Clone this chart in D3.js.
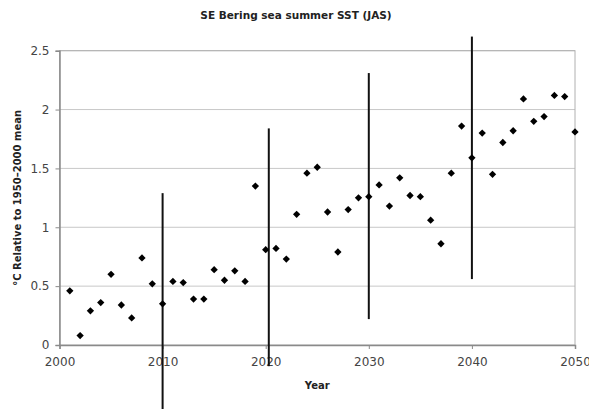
<!DOCTYPE html>
<html><head><meta charset="utf-8">
<script src="https://cdn.jsdelivr.net/npm/d3@7"></script>
<style>body{margin:0;background:#fff}svg{display:block}</style>
</head><body>
<svg id="c" width="589" height="409"></svg>
<script>
const years = d3.range(2001, 2051);
const sst = [0.46,0.08,0.29,0.36,0.60,0.34,0.23,0.74,0.52,0.35,
             0.54,0.53,0.39,0.39,0.64,0.55,0.63,0.54,1.35,0.81,
             0.82,0.73,1.11,1.46,1.51,1.13,0.79,1.15,1.25,1.26,
             1.36,1.18,1.42,1.27,1.26,1.06,0.86,1.46,1.86,1.59,
             1.80,1.45,1.72,1.82,2.09,1.90,1.94,2.12,2.11,1.81];
const barYears = [2010, 2020.3, 2030, 2040];
const barLow  = [-0.55, -0.18, 0.22, 0.56];
const barHigh = [1.29, 1.84, 2.31, 2.62];
const xTicks = [2000, 2010, 2020, 2030, 2040, 2050];
const yTicks = [0, 0.5, 1, 1.5, 2, 2.5];

const svg = d3.select("#c");
const x = d3.scaleLinear().domain([2000, 2050]).range([59.5, 575]);
const y = d3.scaleLinear().domain([0, 2.5]).range([345, 50.7]);
const font = "DejaVu Sans, Verdana, sans-serif";

// gridlines
svg.append("g").selectAll("line").data(yTicks.slice(1)).join("line")
  .attr("x1", x(2000)).attr("x2", x(2050))
  .attr("y1", d => y(d)).attr("y2", d => y(d))
  .attr("stroke", "#c8c8c8").attr("stroke-width", 1);
// plot border top/right
svg.append("rect").attr("x", x(2000)).attr("y", y(2.5))
  .attr("width", x(2050) - x(2000)).attr("height", y(0) - y(2.5))
  .attr("fill", "none").attr("stroke", "#b0b0b0").attr("stroke-width", 1);

// axes
const yAxis = svg.append("g").attr("transform", `translate(${x(2000)},0)`)
  .call(d3.axisLeft(y).tickValues(yTicks).tickSize(4).tickPadding(6).tickFormat(d3.format("")));
const xAxis = svg.append("g").attr("transform", `translate(0,${y(0)})`)
  .call(d3.axisBottom(x).tickValues(xTicks).tickSize(4).tickPadding(8).tickFormat(d3.format("d")));
[xAxis, yAxis].forEach(g => {
  g.select(".domain").attr("stroke", "#8a8a8a").attr("stroke-width", 1.5);
  g.selectAll(".tick line").attr("stroke", "#8a8a8a");
  g.selectAll("text").attr("font-family", font).attr("font-size", 12).attr("fill", "#444");
});

// error bars
svg.append("g").selectAll("line").data(barYears).join("line")
  .attr("x1", d => x(d)).attr("x2", d => x(d))
  .attr("y1", (d, i) => y(barLow[i])).attr("y2", (d, i) => y(barHigh[i]))
  .attr("stroke", "#111").attr("stroke-width", 2);

// points
svg.append("g").selectAll("path").data(years).join("path")
  .attr("transform", (d, i) => `translate(${x(d)},${y(sst[i])})`)
  .attr("d", d3.symbol().type(d3.symbolDiamond2).size(34))
  .attr("fill", "#000");

// titles
svg.append("text").attr("x", 296).attr("y", 19).attr("text-anchor", "middle")
  .attr("font-family", font).attr("font-weight", "bold").attr("font-size", 10.5)
  .attr("fill", "#222").text("SE Bering sea summer SST (JAS)");
svg.append("text").attr("x", (x(2000) + x(2050)) / 2).attr("y", 389).attr("text-anchor", "middle")
  .attr("font-family", font).attr("font-weight", "bold").attr("font-size", 10)
  .attr("fill", "#222").text("Year");
svg.append("text").attr("transform", `translate(21,${(y(0) + y(2.5)) / 2}) rotate(-90)`)
  .attr("text-anchor", "middle")
  .attr("font-family", font).attr("font-weight", "bold").attr("font-size", 10)
  .attr("fill", "#222").text("°C Relative to 1950–2000 mean");
</script>
</body></html>
